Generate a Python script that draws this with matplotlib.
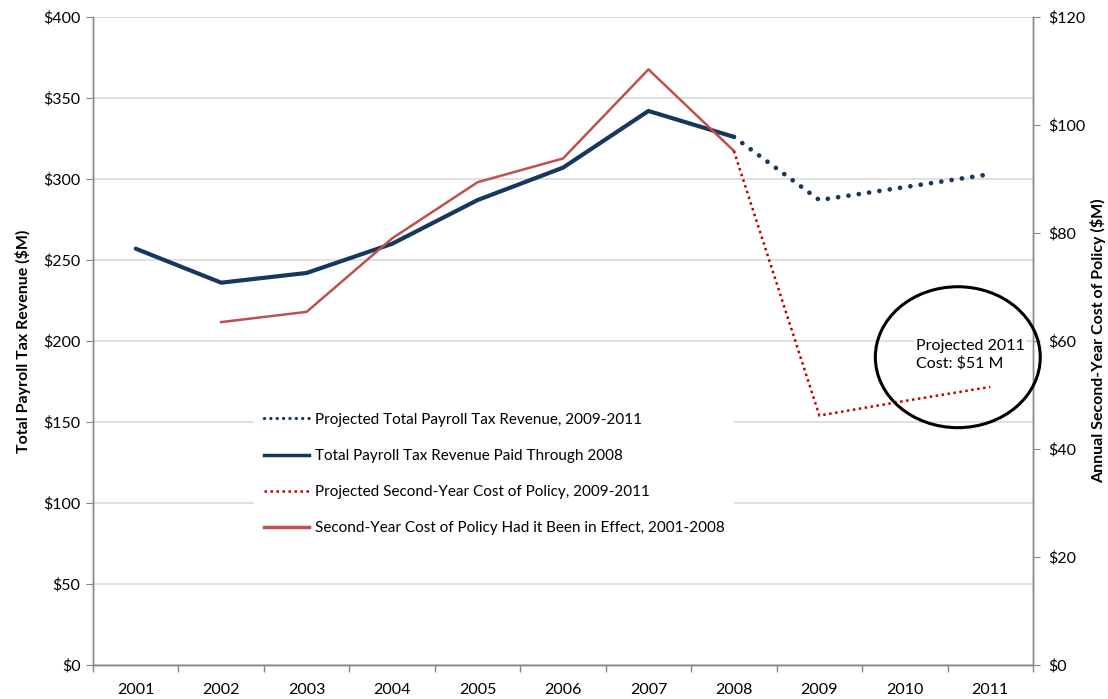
import matplotlib
matplotlib.use("Agg")
import matplotlib.pyplot as plt
from matplotlib.lines import Line2D
from matplotlib.patches import Ellipse

plt.rcParams['font.family'] = ['Lato', 'DejaVu Sans']

years = ['2001', '2002', '2003', '2004', '2005', '2006', '2007', '2008', '2009', '2010', '2011']

# total payroll tax revenue ($M), left axis
revenue_paid = [257, 236, 242, 260, 287, 307, 342, 326]          # 2001-2008
revenue_projected = [326, 287, 295, 303]                          # 2008-2011

# second-year cost of policy ($M), right axis
cost_had_effect = [63.5, 65.4, 79.0, 89.4, 93.8, 110.3, 95.2]     # 2002-2008
cost_projected = [95.2, 46.2, 48.9, 51.5]                         # 2008-2011

left_ticks = [0, 50, 100, 150, 200, 250, 300, 350, 400]
right_ticks = [0, 20, 40, 60, 80, 100, 120]

navy = '#17375e'
red = '#c0504d'
dark_red = '#c00000'
axis_gray = '#868686'
grid_gray = '#d9d9d9'

fig = plt.figure(figsize=(11.08, 6.99), dpi=100)
ax = fig.add_axes([93 / 1108, 34 / 699, 940 / 1108, 648 / 699])
ax2 = ax.twinx()

x_all = list(range(len(years)))
ax.plot(x_all[:8], revenue_paid, color=navy, lw=3.0, solid_capstyle='round',
        solid_joinstyle='round', zorder=3)
ax.plot(x_all[7:], revenue_projected, color=navy, lw=3.4, ls=(0, (0.01, 2.2)),
        dash_capstyle='round', zorder=3)

ax2.plot(x_all[1:8], cost_had_effect, color=red, lw=1.8, zorder=3)
ax2.plot(x_all[7:], cost_projected, color=dark_red, lw=1.8, ls=(0, (1, 1.4)), zorder=3)

ax.set_xlim(-0.5, 10.5)
ax.set_ylim(0, 400)
ax2.set_ylim(0, 120)
ax.set_yticks(left_ticks)
ax.set_yticklabels(['${}'.format(v) for v in left_ticks])
ax2.set_yticks(right_ticks)
ax2.set_yticklabels(['${}'.format(v) for v in right_ticks])

ax.set_xticks(x_all)
ax.set_xticklabels(years)
ax.set_xticks([i - 0.5 for i in range(len(years) + 1)], minor=True)
ax.tick_params(axis='x', which='major', length=0, pad=13, labelsize=11.5)
ax.tick_params(axis='x', which='minor', length=5, color=axis_gray, width=1)
ax.tick_params(axis='y', length=5, color=axis_gray, labelsize=11.5, pad=4)
ax2.tick_params(axis='y', length=5, color=axis_gray, labelsize=11.5, pad=6)

ax.grid(axis='y', color=grid_gray, lw=1.2)
ax.set_axisbelow(True)
for a in (ax, ax2):
    a.spines['top'].set_visible(False)
    for s in ('left', 'right', 'bottom'):
        a.spines[s].set_color(axis_gray)
        a.spines[s].set_linewidth(1)

ax.set_ylabel('Total Payroll Tax Revenue ($M)', fontsize=11.5, fontweight='bold', labelpad=9)
fig.text(1098 / 1108, 0.512, 'Annual Second-Year Cost of Policy ($M)',
         rotation=90, fontsize=11.5, fontweight='bold', ha='center', va='center')

handles = [
    Line2D([], [], color=navy, lw=2.4, ls=(0, (0.01, 1.9)), dash_capstyle='round'),
    Line2D([], [], color=navy, lw=2.5),
    Line2D([], [], color=dark_red, lw=1.8, ls=(0, (1, 1.4))),
    Line2D([], [], color=red, lw=2.5),
]
labels = [
    'Projected Total Payroll Tax Revenue, 2009-2011',
    'Total Payroll Tax Revenue Paid Through 2008',
    'Projected Second-Year Cost of Policy, 2009-2011',
    'Second-Year Cost of Policy Had it Been in Effect, 2001-2008',
]
leg = ax2.legend(handles, labels, loc='center', bbox_to_anchor=(494 / 1108, 1 - 474 / 699),
                 bbox_transform=fig.transFigure, frameon=True, fancybox=False,
                 edgecolor='none', facecolor='white', framealpha=1, fontsize=11,
                 labelspacing=1.45, handlelength=3.0, handletextpad=0.35, borderpad=0.6)
leg.set_zorder(5)

ax2.text(9.13, 57.4, 'Projected 2011\nCost: $51 M', fontsize=11.5, ha='left', va='center',
         linespacing=1.25, zorder=6,
         bbox=dict(facecolor='white', edgecolor='none', pad=1))
ell = Ellipse((9.62, 57.0), 1.93, 26.1, fill=False, edgecolor='black', lw=2.2,
              clip_on=False, zorder=7)
ax2.add_patch(ell)

fig.savefig('out.png', dpi=100)
